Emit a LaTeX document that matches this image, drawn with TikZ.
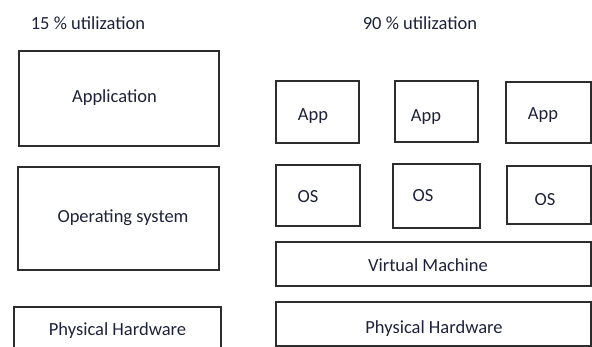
\documentclass[tikz,border=0pt]{standalone}
\usepackage{fontspec}
\setmainfont{Carlito}
\usepackage{xcolor}
\usepackage{tikz}
\usetikzlibrary{positioning}
\definecolor{vmtext}{RGB}{30,34,58}
\definecolor{vmline}{RGB}{45,45,45}

\begin{document}
\begin{tikzpicture}[x=1pt,y=-1pt,
  box/.style={draw=vmline,line width=1.2pt,inner sep=0pt},
  every label/.style={text=vmtext,font=\fontsize{18.5}{22}\selectfont,inner sep=0pt},
  every node/.append style={text=vmtext,font=\fontsize{18.5}{22}\selectfont}]
\useasboundingbox (0,0) rectangle (592,347);
\clip (0,0) rectangle (592,347);
% Without virtualization
\node (util1) at (88,23.5) {15 \% utilization};
\node[box,minimum width=200pt,minimum height=95pt,label={[xshift=-4.5pt,yshift=0.5pt]center:Application}] (app) at (119,98.5) {};
\node[box,minimum width=201pt,minimum height=103pt,label={[xshift=4.5pt,yshift=0.5pt]center:Operating system}] (os) at (118.5,218.5) {};
\node[box,minimum width=207pt,minimum height=53pt,label={[yshift=3pt]center:Physical Hardware}] (hw) at (117.5,333.5) {};

% With virtualization
\node (util2) at (420,23.5) {90 \% utilization};
\node[box,minimum width=83pt,minimum height=62pt,label={[xshift=-4.5pt,yshift=-4.5pt]center:App}] (app1) at (317.5,112) {};
\node[box,minimum width=83pt,minimum height=61pt,label={[xshift=-10.5pt,yshift=-6pt]center:App}] (app2) at (436.5,111.5) {};
\node[box,minimum width=85pt,minimum height=61pt,label={[xshift=-5.5pt,yshift=-3pt]center:App}] (app3) at (548.5,112.5) {};
\node[box,minimum width=84pt,minimum height=61pt,label={[xshift=-10pt,yshift=-1pt]center:OS}] (os1) at (318,195.5) {};
\node[box,minimum width=87pt,minimum height=64pt,label={[xshift=-13.5pt,yshift=0.5pt]center:OS}] (os2) at (436.5,196) {};
\node[box,minimum width=84pt,minimum height=58pt,label={[xshift=-4pt,yshift=-4.5pt]center:OS}] (os3) at (549,195) {};
\node[box,minimum width=315pt,minimum height=44pt,label={[xshift=-5.5pt,yshift=-1.5pt]center:Virtual Machine}] (vm) at (433.5,264) {};
\node[box,minimum width=315pt,minimum height=44pt,label={[xshift=0.5pt,yshift=-4.5pt]center:Physical Hardware}] (hw2) at (433.5,324) {};
\end{tikzpicture}
\end{document}
